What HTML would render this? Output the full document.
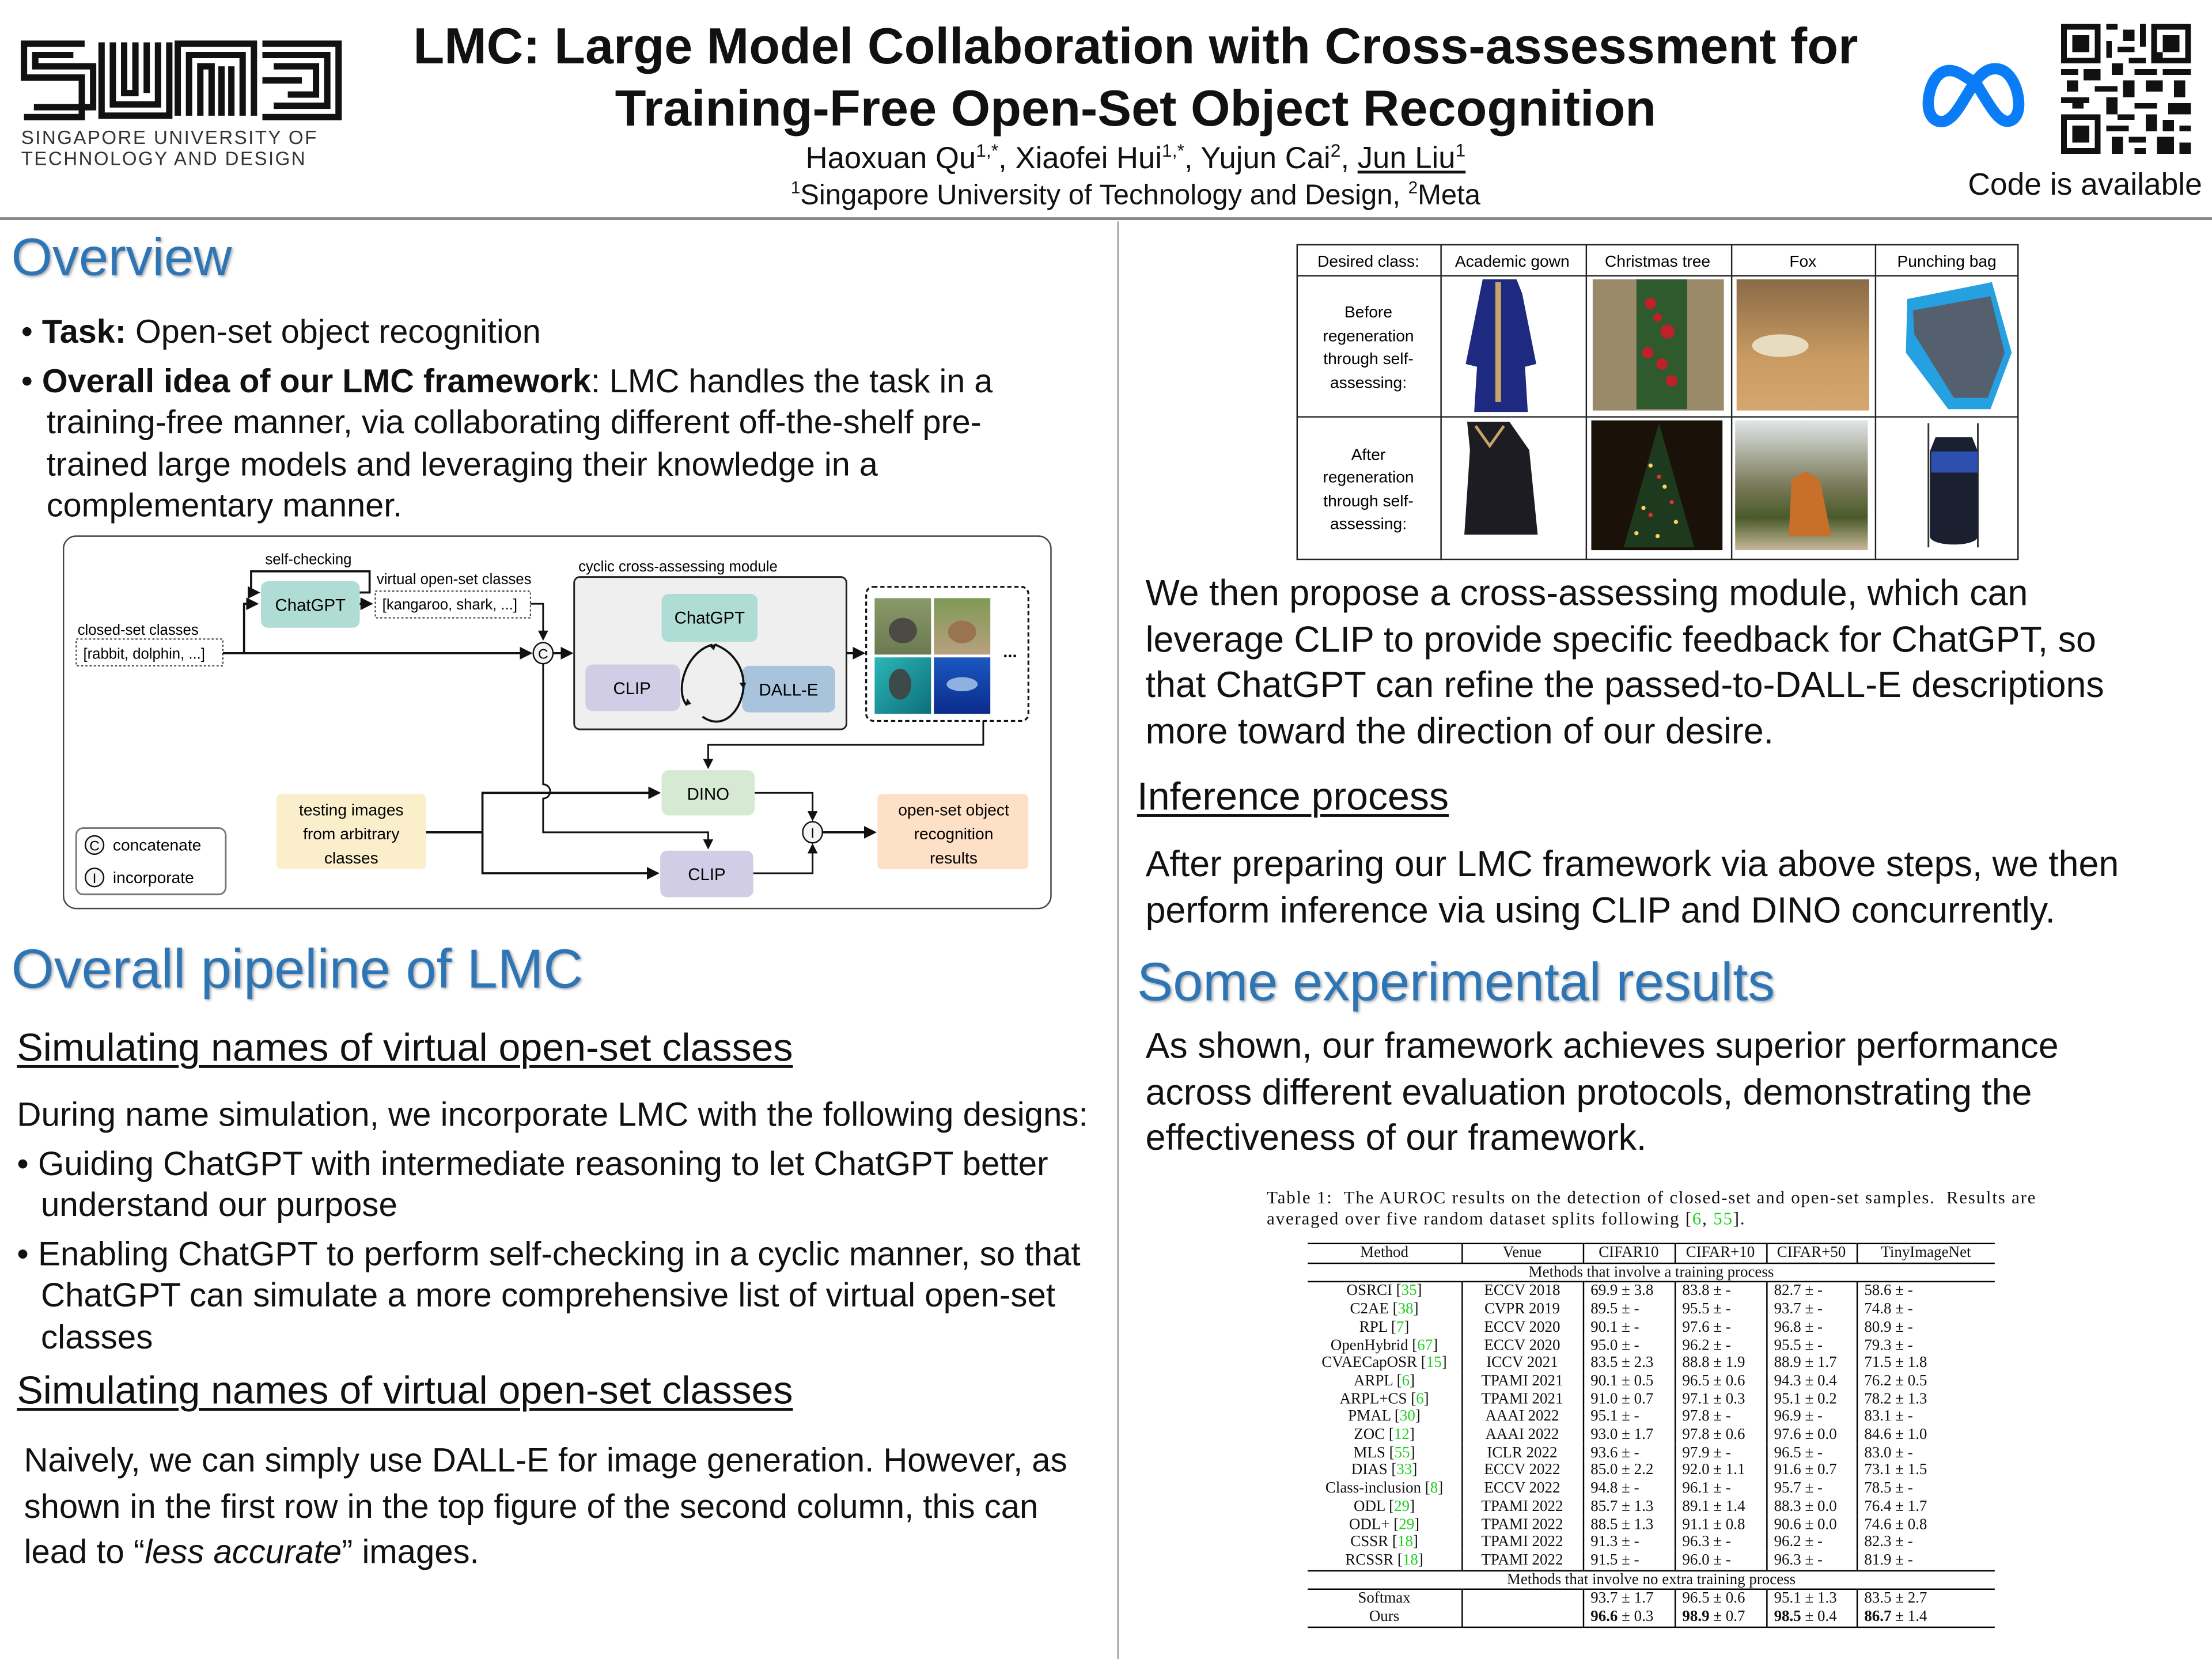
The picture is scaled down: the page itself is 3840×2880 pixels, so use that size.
<!DOCTYPE html>
<html><head><meta charset="utf-8">
<style>
html,body{margin:0;padding:0;background:#fff;}
body{width:3840px;height:2880px;overflow:hidden;position:relative;}
#w{position:absolute;left:0;top:0;width:1568px;height:1176px;transform:scale(2.44898);transform-origin:0 0;font-family:"Liberation Sans",sans-serif;color:#111;}
.a{position:absolute;white-space:nowrap;}
.h1{font-size:37.5px;color:#2e75b6;text-shadow:1px 1px 2px rgba(0,0,0,.35);}
.sub{font-size:27.8px;text-decoration:underline;text-decoration-thickness:2px;text-underline-offset:3px;}
.p23{font-size:23.8px;line-height:29.5px;}
.p24{font-size:24px;line-height:32.5px;}
.tb{border-collapse:collapse;table-layout:fixed;font-family:"Liberation Serif",serif;font-size:11px;}
.tb td{padding:0;height:12.7px;line-height:12.7px;text-align:center;white-space:nowrap;}
.tb td.l{text-align:left;padding-left:5px;}
.g{color:#1fcf1f;}
.bl{border-left:1px solid #000;}
</style></head><body><div id="w">

<!-- SUTD logo -->
<svg class="a" style="left:14px;top:28px" width="230" height="58" viewBox="0 0 230 58">
<g fill="none" stroke="#111" stroke-width="4.5">
<path d="M46 3H3V27H44V55H3"/><path d="M38 11H11V19H52V48H10"/>
<path d="M58 2V54H106V2"/><path d="M66 2V46H98V2"/><path d="M74 2V38H82V2M90 2V38"/>
<path d="M112 54V3H166V54"/><path d="M120 54V11H158V54"/><path d="M128 54V19H136V54M143 19V54M150 19V54"/>
<path d="M172 3H226V55H172"/><path d="M172 11H218V47H180"/><path d="M180 19H210V39H190"/><path d="M172 29H200"/>
</g></svg>
<div class="a" style="left:15px;top:90px;font-size:13.5px;line-height:15px;letter-spacing:1px;color:#333">SINGAPORE UNIVERSITY OF<br>TECHNOLOGY AND DESIGN</div>

<div class="a" style="left:0;width:1610px;top:11px;text-align:center;font-size:36px;font-weight:bold;line-height:44px">LMC: Large Model Collaboration with Cross-assessment for<br>Training-Free Open-Set Object Recognition</div>
<div class="a" style="left:0;width:1610px;top:99px;text-align:center;font-size:21.5px">Haoxuan Qu<sup style="font-size:13px">1,*</sup>, Xiaofei Hui<sup style="font-size:13px">1,*</sup>, Yujun Cai<sup style="font-size:13px">2</sup>, <u>Jun Liu<sup style="font-size:13px">1</sup></u></div>
<div class="a" style="left:0;width:1610px;top:126px;text-align:center;font-size:20px"><sup style="font-size:12px">1</sup>Singapore University of Technology and Design, <sup style="font-size:12px">2</sup>Meta</div>

<!-- meta logo -->
<svg class="a" style="left:1362px;top:44px" width="76" height="48" viewBox="0 0 76 48">
<path d="M20 6C8 6 4 24 5 32c1 8 6 11 11 10 8-2 14-16 22-28 7-9 12-10 17-9 9 2 14 15 14 25 0 8-4 12-8 12-7 0-13-12-23-28C32 12 27 6 20 6Z" fill="none" stroke="#0a7cf5" stroke-width="8"/></svg>

<!-- QR -->
<svg class="a" style="left:1461px;top:17px" width="92" height="92" viewBox="0 0 23 23" shape-rendering="crispEdges">
<g fill="#111">
<path d="M0 0h7v7H0zM16 0h7v7h-7zM0 16h7v7H0z"/>
</g><g fill="#fff"><path d="M1 1h5v5H1zM17 1h5v5h-5zM1 17h5v5H1z"/></g>
<g fill="#111"><path d="M2 2h3v3H2zM18 2h3v3h-3zM2 18h3v3H2z"/>
<path d="M8 0h2v1H8zM11 1h2v2h-2zM8 3h1v3H8zM10 4h3v1h-3zM14 0h1v4h-1zM12 6h3v1h-3zM9 7h2v2H9zM0 8h3v1H0zM4 8h3v2H4zM13 8h4v1h-4zM18 8h5v1h-5zM1 10h2v2H1zM6 11h4v1H6zM11 10h2v3h-2zM15 10h3v2h-3zM20 10h2v3h-2zM0 13h5v1H0zM8 13h2v3H8zM13 14h4v1h-4zM19 14h4v2h-4zM10 16h3v1h-3zM15 16h2v3h-2zM8 18h4v1H8zM18 17h2v2h-2zM21 18h2v1h-2zM9 20h2v3H9zM12 20h3v1h-3zM17 20h3v3h-3zM13 22h2v1h-2zM21 21h2v2h-2zM5 9h1v1H5zM16 5h2v2h-2zM2 14h2v1H2z"/></g></svg>
<div class="a" style="left:1395px;top:118px;font-size:21.8px">Code is available</div>

<div class="a" style="left:0;top:154px;width:1568px;height:2px;background:#888"></div>
<div class="a" style="left:792px;top:157px;width:1px;height:1019px;background:#999"></div>

<!-- LEFT COLUMN -->
<div class="a h1" style="left:8px;top:161px">Overview</div>
<div class="a p23" style="left:15px;top:221px;font-size:23.5px">• <b>Task:</b> Open-set object recognition</div>
<div class="a p23" style="left:15px;top:256px;font-size:23.5px">• <b>Overall idea of our LMC framework</b>: LMC handles the task in a</div>
<div class="a p23" style="left:33px;top:285px;font-size:23.5px">training-free manner, via collaborating different off-the-shelf pre-<br>trained large models and leveraging their knowledge in a<br>complementary manner.</div>

<!-- Diagram -->
<svg class="a" style="left:0;top:370px" width="790" height="290" viewBox="0 370 790 290" font-family="Liberation Sans, sans-serif">
<defs><marker id="ar" markerWidth="6" markerHeight="6" refX="5" refY="3" orient="auto"><path d="M0 0L6 3L0 6z" fill="#111"/></marker></defs>
<rect x="45" y="380" width="700" height="264" rx="9" fill="#fff" stroke="#444" stroke-width="1"/>
<text x="188" y="400" font-size="10.5">self-checking</text>
<path d="M255 420H262V405H178V420H183" fill="none" stroke="#111" stroke-width="1.5" marker-end="url(#ar)"/>
<rect x="185" y="412" width="70" height="33" rx="5" fill="#b0dcd6"/>
<text x="220" y="433" font-size="12" text-anchor="middle">ChatGPT</text>
<text x="267" y="414" font-size="10.5">virtual open-set classes</text>
<rect x="266" y="419" width="110" height="19" fill="#fff" stroke="#333" stroke-dasharray="1.5,1.5" stroke-width="0.8"/>
<text x="271" y="432" font-size="10.5">[kangaroo, shark, ...]</text>
<text x="55" y="450" font-size="10.5">closed-set classes</text>
<rect x="54" y="453" width="104" height="19" fill="#fff" stroke="#333" stroke-dasharray="1.5,1.5" stroke-width="0.8"/>
<text x="59" y="467" font-size="10.5">[rabbit, dolphin, ...]</text>
<path d="M158 463H376" stroke="#111" stroke-width="1.5" marker-end="url(#ar)"/>
<path d="M173 463V428H182" fill="none" stroke="#111" stroke-width="1.5" marker-end="url(#ar)"/>
<path d="M255 428H263" stroke="#111" stroke-width="1.5" marker-end="url(#ar)"/>
<path d="M376 428H385V453" fill="none" stroke="#111" stroke-width="1.2" marker-end="url(#ar)"/>
<ellipse cx="385" cy="463" rx="7" ry="7.5" fill="#f4f4f4" stroke="#111"/>
<text x="385" y="467" font-size="10" text-anchor="middle">C</text>
<path d="M392 463H405" stroke="#111" stroke-width="1.5" marker-end="url(#ar)"/>
<text x="410" y="405" font-size="10.5">cyclic cross-assessing module</text>
<rect x="407" y="409" width="193" height="108" rx="4" fill="#efefef" stroke="#222" stroke-width="1.2"/>
<rect x="469" y="421" width="68" height="34" rx="5" fill="#b0dcd6"/>
<text x="503" y="442" font-size="12" text-anchor="middle">ChatGPT</text>
<rect x="415" y="471" width="67" height="33" rx="5" fill="#d1cde6"/>
<text x="448" y="492" font-size="12" text-anchor="middle">CLIP</text>
<rect x="526" y="472" width="66" height="33" rx="5" fill="#a8c4dc"/>
<text x="559" y="493" font-size="12" text-anchor="middle">DALL-E</text>
<path d="M505 457C486 462 478 490 487 500M498 508C512 518 525 505 527 488C528 474 520 462 507 457" fill="none" stroke="#111" stroke-width="1.5"/>
<path d="M503 458l5-2-2 5zM486 500l1-5 3 4zM527 488l-3-4 5 0z" fill="#111"/>
<path d="M600 463H612" stroke="#111" stroke-width="1.5" marker-end="url(#ar)"/>
<rect x="614" y="416" width="115" height="95" rx="5" fill="#fff" stroke="#111" stroke-width="1.3" stroke-dasharray="3,2"/>
<defs>
<linearGradient id="g1" x1="0" y1="0" x2="0" y2="1"><stop offset="0" stop-color="#8a9a6a"/><stop offset="1" stop-color="#6b7a50"/></linearGradient>
<linearGradient id="g2" x1="0" y1="0" x2="0" y2="1"><stop offset="0" stop-color="#7f9a55"/><stop offset="1" stop-color="#b8a080"/></linearGradient>
<linearGradient id="g3" x1="0" y1="0" x2="1" y2="1"><stop offset="0" stop-color="#2ab7b7"/><stop offset="1" stop-color="#0e6e7a"/></linearGradient>
<linearGradient id="g4" x1="0" y1="0" x2="0" y2="1"><stop offset="0" stop-color="#1b58c0"/><stop offset="1" stop-color="#0b2b8c"/></linearGradient>
</defs>
<rect x="620" y="424" width="40" height="40" fill="url(#g1)"/><ellipse cx="640" cy="447" rx="10" ry="9" fill="#4d4a44"/>
<rect x="662" y="424" width="40" height="40" fill="url(#g2)"/><ellipse cx="682" cy="448" rx="10" ry="8" fill="#9a7350"/>
<rect x="620" y="466" width="40" height="40" fill="url(#g3)"/><ellipse cx="638" cy="485" rx="8" ry="11" fill="#3d4a4a"/>
<rect x="662" y="466" width="40" height="40" fill="url(#g4)"/><ellipse cx="682" cy="485" rx="11" ry="5" fill="#8fb0e0"/>
<text x="716" y="466" font-size="12" text-anchor="middle" font-weight="bold">...</text>
<path d="M697 511V528H502V544" fill="none" stroke="#111" stroke-width="1.2" marker-end="url(#ar)"/>
<path d="M385 470V556A5 5 0 0 1 385 566V590H502V601" fill="none" stroke="#111" stroke-width="1.2" marker-end="url(#ar)"/>
<rect x="469" y="546" width="66" height="32" rx="5" fill="#d6e9d2"/>
<text x="502" y="567" font-size="12" text-anchor="middle">DINO</text>
<rect x="468" y="603" width="66" height="33" rx="5" fill="#d1cde6"/>
<text x="501" y="624" font-size="12" text-anchor="middle">CLIP</text>
<rect x="196" y="563" width="106" height="53" rx="3" fill="#fbefcb"/>
<text x="249" y="578" font-size="11.5" text-anchor="middle">testing images</text>
<text x="249" y="595" font-size="11.5" text-anchor="middle">from arbitrary</text>
<text x="249" y="612" font-size="11.5" text-anchor="middle">classes</text>
<path d="M302 590H342V562H467M342 590V619H466" fill="none" stroke="#111" stroke-width="1.5" marker-end="url(#ar)"/>
<path d="M342 562H467" stroke="#111" stroke-width="1.5" marker-end="url(#ar)"/>
<path d="M535 562H576V581" fill="none" stroke="#111" stroke-width="1.2" marker-end="url(#ar)"/>
<path d="M534 619H576V599" fill="none" stroke="#111" stroke-width="1.2" marker-end="url(#ar)"/>
<ellipse cx="576" cy="590" rx="7" ry="7.5" fill="#f4f4f4" stroke="#111"/>
<text x="576" y="594" font-size="10" text-anchor="middle">I</text>
<path d="M583 590H620" stroke="#111" stroke-width="1.5" marker-end="url(#ar)"/>
<rect x="622" y="563" width="107" height="53" rx="3" fill="#fde0c6"/>
<text x="676" y="578" font-size="11.5" text-anchor="middle">open-set object</text>
<text x="676" y="595" font-size="11.5" text-anchor="middle">recognition</text>
<text x="676" y="612" font-size="11.5" text-anchor="middle">results</text>
<rect x="54" y="587" width="106" height="47" rx="5" fill="#fff" stroke="#777" stroke-width="1.2"/>
<circle cx="67" cy="599" r="6.5" fill="#f4f4f4" stroke="#111"/><text x="67" y="603" font-size="10" text-anchor="middle">C</text>
<text x="80" y="603" font-size="11.5">concatenate</text>
<circle cx="67" cy="622" r="6.5" fill="#f4f4f4" stroke="#111"/><text x="67" y="626" font-size="10" text-anchor="middle">I</text>
<text x="80" y="626" font-size="11.5">incorporate</text>
</svg>

<div class="a h1" style="left:8px;top:666px;font-size:39px">Overall pipeline of LMC</div>
<div class="a sub" style="left:12px;top:727px">Simulating names of virtual open-set classes</div>
<div class="a p23" style="left:12px;top:776px">During name simulation, we incorporate LMC with the following designs:</div>
<div class="a p23" style="left:12px;top:811px">• Guiding ChatGPT with intermediate reasoning to let ChatGPT better</div>
<div class="a p23" style="left:29px;top:840px">understand our purpose</div>
<div class="a p23" style="left:12px;top:875px">• Enabling ChatGPT to perform self-checking in a cyclic manner, so that</div>
<div class="a p23" style="left:29px;top:904px">ChatGPT can simulate a more comprehensive list of virtual open-set<br>classes</div>
<div class="a sub" style="left:12px;top:970px">Simulating names of virtual open-set classes</div>
<div class="a p24" style="left:17px;top:1020px;font-size:23.7px">Naively, we can simply use DALL-E for image generation. However, as<br>shown in the first row in the top figure of the second column, this can<br>lead to “<i>less accurate</i>” images.</div>

<!-- RIGHT COLUMN: image table -->
<div class="a" style="left:919px;top:173px;width:512px;height:224px;border:1px solid #222;box-sizing:border-box"></div>
<svg class="a" style="left:919px;top:173px" width="513" height="225" viewBox="919 173 513 225" font-family="Liberation Sans, sans-serif">
<g stroke="#222" stroke-width="1"><path d="M919 195.5H1431M919 295.5H1431M1021.5 173V397M1124.5 173V397M1227.5 173V397M1329.5 173V397"/></g>
<g font-size="11.5" text-anchor="middle">
<text x="970" y="189">Desired class:</text><text x="1072" y="189">Academic gown</text><text x="1175" y="189">Christmas tree</text><text x="1278" y="189">Fox</text><text x="1380" y="189">Punching bag</text>
<text x="970" y="225">Before</text><text x="970" y="242">regeneration</text><text x="970" y="258">through self-</text><text x="970" y="275">assessing:</text>
<text x="970" y="326">After</text><text x="970" y="342">regeneration</text><text x="970" y="359">through self-</text><text x="970" y="375">assessing:</text>
</g>
<defs>
<linearGradient id="f1" x1="0" y1="0" x2="0" y2="1"><stop offset="0" stop-color="#8a6a48"/><stop offset=".6" stop-color="#c99b62"/><stop offset="1" stop-color="#d6a670"/></linearGradient>
<linearGradient id="f2" x1="0" y1="0" x2="0" y2="1"><stop offset="0" stop-color="#e0e6e6"/><stop offset=".5" stop-color="#7a7a5a"/><stop offset=".75" stop-color="#4a5a2a"/><stop offset="1" stop-color="#c8b89a"/></linearGradient>
</defs>
<path d="M1051 198h24l4 10 10 50-8 2 2 32h-38l2-32-8-2 10-50z" fill="#1d2a80"/><rect x="1060" y="200" width="4" height="85" fill="#c9a46a"/>
<rect x="1129" y="198" width="93" height="93" fill="#9a8a6a"/><rect x="1160" y="198" width="36" height="92" fill="#2f5a2e"/>
<g fill="#c0202a"><circle cx="1170" cy="215" r="4"/><circle cx="1182" cy="235" r="5"/><circle cx="1168" cy="250" r="4"/><circle cx="1185" cy="270" r="4"/><circle cx="1175" cy="225" r="3"/><circle cx="1178" cy="258" r="4"/></g>
<rect x="1231" y="198" width="94" height="93" fill="url(#f1)"/><ellipse cx="1262" cy="245" rx="20" ry="8" fill="#e8dcc0"/>
<path d="M1352 212l60-12 14 50-15 40h-30l-30-40z" fill="#25a0e0"/><path d="M1356 220l55-10 10 40-12 32h-24l-28-45z" fill="#54606e"/>
<path d="M1040 299h30l14 20 6 60h-52l4-60z" fill="#1c1c22"/><path d="M1046 302l10 14 10-14" stroke="#c9a46a" stroke-width="2" fill="none"/>
<rect x="1128" y="298" width="93" height="92" fill="#1a1208"/><path d="M1176 300l-25 88h50z" fill="#1e3a1e"/>
<g fill="#ffd060"><circle cx="1170" cy="330" r="1.5"/><circle cx="1180" cy="345" r="1.5"/><circle cx="1165" cy="360" r="1.5"/><circle cx="1188" cy="370" r="1.5"/><circle cx="1175" cy="380" r="1.5"/><circle cx="1160" cy="378" r="1.5"/></g>
<g fill="#e03030"><circle cx="1176" cy="338" r="1.5"/><circle cx="1170" cy="365" r="1.5"/><circle cx="1185" cy="356" r="1.5"/></g>
<rect x="1230" y="298" width="94" height="92" fill="url(#f2)"/><path d="M1270 340l10-6 10 6 8 40h-30z" fill="#c8702a"/>
<path d="M1367 300v88M1402 300v88" stroke="#333" stroke-width="1.2"/><path d="M1372 310h26l4 10v60c0 8-34 8-34 0v-60z" fill="#1a2030"/><rect x="1369" y="320" width="33" height="15" fill="#2c4fb0"/>
</svg>

<div class="a p24" style="left:812px;top:405px;font-size:25.6px">We then propose a cross-assessing module, which can<br>leverage CLIP to provide specific feedback for ChatGPT, so<br>that ChatGPT can refine the passed-to-DALL-E descriptions<br>more toward the direction of our desire.</div>
<div class="a sub" style="left:806px;top:549px">Inference process</div>
<div class="a p24" style="left:812px;top:597px;font-size:25.6px">After preparing our LMC framework via above steps, we then<br>perform inference via using CLIP and DINO concurrently.</div>
<div class="a h1" style="left:806px;top:675px;font-size:38.2px">Some experimental results</div>
<div class="a p24" style="left:812px;top:726px;font-size:25.6px">As shown, our framework achieves superior performance<br>across different evaluation protocols, demonstrating the<br>effectiveness of our framework.</div>

<div class="a" style="left:898px;top:842px;font-family:'Liberation Serif',serif;font-size:12.6px;line-height:15px;letter-spacing:0.75px">Table 1: &nbsp;The AUROC results on the detection of closed-set and open-set samples. &nbsp;Results are<br>averaged over five random dataset splits following [<span class="g">6</span>, <span class="g">55</span>].</div>

<table class="tb a" style="left:927px;top:881px;width:487px;border-top:1.5px solid #000;border-bottom:1.5px solid #000">
<colgroup><col style="width:109px"><col style="width:86px"><col style="width:65px"><col style="width:65px"><col style="width:64px"><col style="width:98px"></colgroup>
<tr style="border-bottom:1.5px solid #000"><td>Method</td><td class="bl">Venue</td><td class="bl">CIFAR10</td><td class="bl">CIFAR+10</td><td class="bl">CIFAR+50</td><td class="bl">TinyImageNet</td></tr>
<tr style="border-bottom:1.5px solid #000"><td colspan="6">Methods that involve a training process</td></tr>
<tr><td>OSRCI [<span class="g">35</span>]</td><td class="bl">ECCV 2018</td><td class="bl l">69.9 ± 3.8</td><td class="bl l">83.8 ± -</td><td class="bl l">82.7 ± -</td><td class="bl l">58.6 ± -</td></tr>
<tr><td>C2AE [<span class="g">38</span>]</td><td class="bl">CVPR 2019</td><td class="bl l">89.5 ± -</td><td class="bl l">95.5 ± -</td><td class="bl l">93.7 ± -</td><td class="bl l">74.8 ± -</td></tr>
<tr><td>RPL [<span class="g">7</span>]</td><td class="bl">ECCV 2020</td><td class="bl l">90.1 ± -</td><td class="bl l">97.6 ± -</td><td class="bl l">96.8 ± -</td><td class="bl l">80.9 ± -</td></tr>
<tr><td>OpenHybrid [<span class="g">67</span>]</td><td class="bl">ECCV 2020</td><td class="bl l">95.0 ± -</td><td class="bl l">96.2 ± -</td><td class="bl l">95.5 ± -</td><td class="bl l">79.3 ± -</td></tr>
<tr><td>CVAECapOSR [<span class="g">15</span>]</td><td class="bl">ICCV 2021</td><td class="bl l">83.5 ± 2.3</td><td class="bl l">88.8 ± 1.9</td><td class="bl l">88.9 ± 1.7</td><td class="bl l">71.5 ± 1.8</td></tr>
<tr><td>ARPL [<span class="g">6</span>]</td><td class="bl">TPAMI 2021</td><td class="bl l">90.1 ± 0.5</td><td class="bl l">96.5 ± 0.6</td><td class="bl l">94.3 ± 0.4</td><td class="bl l">76.2 ± 0.5</td></tr>
<tr><td>ARPL+CS [<span class="g">6</span>]</td><td class="bl">TPAMI 2021</td><td class="bl l">91.0 ± 0.7</td><td class="bl l">97.1 ± 0.3</td><td class="bl l">95.1 ± 0.2</td><td class="bl l">78.2 ± 1.3</td></tr>
<tr><td>PMAL [<span class="g">30</span>]</td><td class="bl">AAAI 2022</td><td class="bl l">95.1 ± -</td><td class="bl l">97.8 ± -</td><td class="bl l">96.9 ± -</td><td class="bl l">83.1 ± -</td></tr>
<tr><td>ZOC [<span class="g">12</span>]</td><td class="bl">AAAI 2022</td><td class="bl l">93.0 ± 1.7</td><td class="bl l">97.8 ± 0.6</td><td class="bl l">97.6 ± 0.0</td><td class="bl l">84.6 ± 1.0</td></tr>
<tr><td>MLS [<span class="g">55</span>]</td><td class="bl">ICLR 2022</td><td class="bl l">93.6 ± -</td><td class="bl l">97.9 ± -</td><td class="bl l">96.5 ± -</td><td class="bl l">83.0 ± -</td></tr>
<tr><td>DIAS [<span class="g">33</span>]</td><td class="bl">ECCV 2022</td><td class="bl l">85.0 ± 2.2</td><td class="bl l">92.0 ± 1.1</td><td class="bl l">91.6 ± 0.7</td><td class="bl l">73.1 ± 1.5</td></tr>
<tr><td>Class-inclusion [<span class="g">8</span>]</td><td class="bl">ECCV 2022</td><td class="bl l">94.8 ± -</td><td class="bl l">96.1 ± -</td><td class="bl l">95.7 ± -</td><td class="bl l">78.5 ± -</td></tr>
<tr><td>ODL [<span class="g">29</span>]</td><td class="bl">TPAMI 2022</td><td class="bl l">85.7 ± 1.3</td><td class="bl l">89.1 ± 1.4</td><td class="bl l">88.3 ± 0.0</td><td class="bl l">76.4 ± 1.7</td></tr>
<tr><td>ODL+ [<span class="g">29</span>]</td><td class="bl">TPAMI 2022</td><td class="bl l">88.5 ± 1.3</td><td class="bl l">91.1 ± 0.8</td><td class="bl l">90.6 ± 0.0</td><td class="bl l">74.6 ± 0.8</td></tr>
<tr><td>CSSR [<span class="g">18</span>]</td><td class="bl">TPAMI 2022</td><td class="bl l">91.3 ± -</td><td class="bl l">96.3 ± -</td><td class="bl l">96.2 ± -</td><td class="bl l">82.3 ± -</td></tr>
<tr style="border-bottom:1.5px solid #000"><td>RCSSR [<span class="g">18</span>]</td><td class="bl">TPAMI 2022</td><td class="bl l">91.5 ± -</td><td class="bl l">96.0 ± -</td><td class="bl l">96.3 ± -</td><td class="bl l">81.9 ± -</td></tr>
<tr style="border-bottom:1.5px solid #000"><td colspan="6">Methods that involve no extra training process</td></tr>
<tr><td>Softmax</td><td class="bl"></td><td class="bl l">93.7 ± 1.7</td><td class="bl l">96.5 ± 0.6</td><td class="bl l">95.1 ± 1.3</td><td class="bl l">83.5 ± 2.7</td></tr>
<tr><td>Ours</td><td class="bl"></td><td class="bl l"><b>96.6</b> ± 0.3</td><td class="bl l"><b>98.9</b> ± 0.7</td><td class="bl l"><b>98.5</b> ± 0.4</td><td class="bl l"><b>86.7</b> ± 1.4</td></tr>
</table>

</div></body></html>
